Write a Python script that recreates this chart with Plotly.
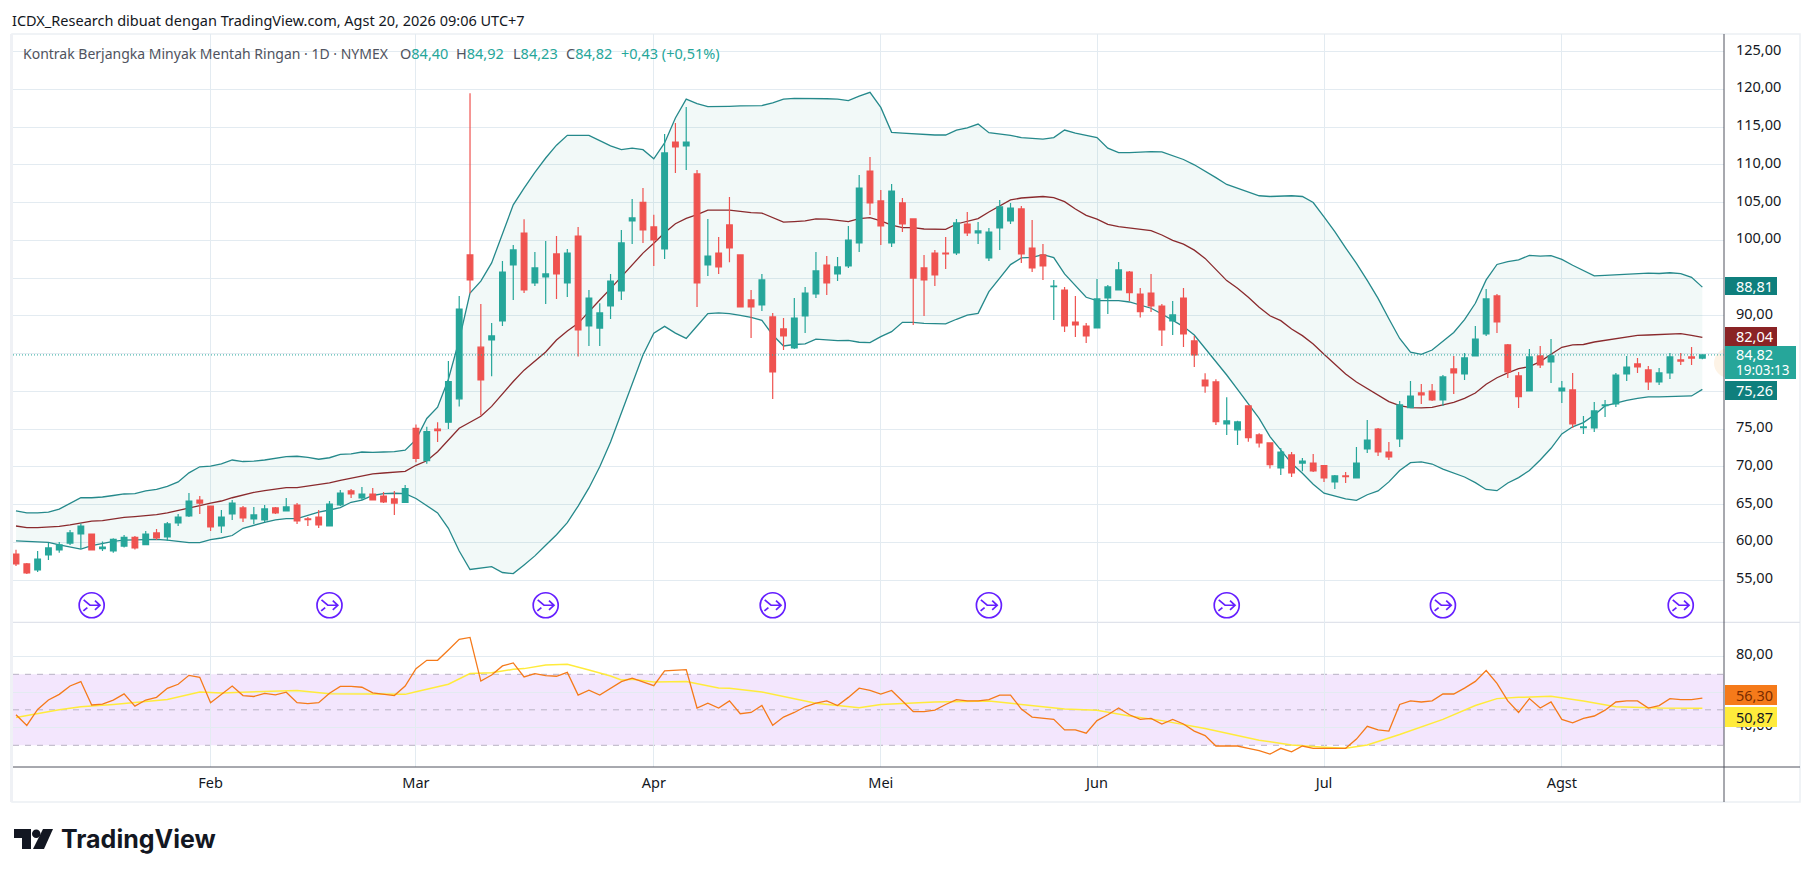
import plotly.graph_objects as go

W, H = 1814, 877

# ---------- DATA ----------
month_idx = [18, 37, 59, 80, 100, 121, 143]
month_lbl = ["Feb", "Mar", "Apr", "Mei", "Jun", "Jul", "Agst"]
price_ticks = [55, 60, 65, 70, 75, 80, 85, 90, 95, 100, 105, 110, 115, 120, 125]
price_tick_lbl = ["55,00", "60,00", "65,00", "70,00", "75,00", "", "", "90,00", "", "100,00", "105,00", "110,00", "115,00", "120,00", "125,00"]
rsi_ticks = [40, 60, 80]
rsi_tick_lbl = ["40,00", "", "80,00"]

open_ = [58.45,57.13,56.34,58.32,58.98,59.9,61.1,61.1,59.16,58.85,
 59.5,60.66,59.7,61.24,60.7,62.56,63.49,65.6,64.8,62.16,
 63.75,64.55,63.09,62.96,64.55,64.15,64.94,63.09,63.35,62.16,
 64.94,66.8,65.87,66.4,66.13,65.74,65.3,75.1,70.8,75.0,
 75.9,79.0,98.06,85.85,86.8,89.32,96.73,100.97,94.35,95.14,
 98.19,94.35,100.57,88.65,88.38,91.3,93.29,102.56,105.03,101.77,
 98.85,113.02,112.49,108.79,96.73,98.32,102.03,98.06,92.1,91.44,
 89.85,88.26,85.74,89.98,92.89,96.73,95.54,96.6,99.65,109.18,
 105.21,99.65,104.95,102.83,96.34,98.32,98.32,98.32,102.16,100.97,
 97.66,101.63,102.56,104.15,98.98,98.06,93.86,93.42,89.18,88.65,
 88.39,92.36,93.42,95.8,92.89,93.02,91.3,89.32,92.36,86.67,
 81.5,81.24,75.67,74.88,78.06,74.22,73.16,69.85,71.57,70.5,
 70.5,70.15,68.0,68.79,68.52,72.36,75.0,71.96,73.69,77.84,
 79.78,80.04,78.85,82.96,82.3,84.68,87.59,92.63,86.14,82.03,
 80.04,84.68,83.89,80.04,80.18,75.2,75.14,78.1,78.32,82.3,
 83.62,82.83,81.24,82.43,84.15,84.55,84.40]
high = [59.0,57.26,58.85,59.9,60.04,61.63,62.5,61.1,60.09,60.53,
 60.97,60.84,61.5,61.77,62.7,63.75,66.53,66.13,64.8,64.28,
 65.6,64.8,64.68,64.94,64.68,65.87,65.2,63.35,64.28,65.47,
 66.93,67.06,67.33,67.2,66.66,66.8,67.6,75.6,75.3,75.9,
 84.0,92.63,119.47,91.57,89.05,97.26,99.38,102.8,98.45,99.91,
 100.57,98.85,101.77,93.42,91.66,95.54,101.37,105.47,106.93,103.38,
 114.08,115.54,117.66,109.3,102.83,100.44,105.74,98.1,93.42,95.54,
 90.38,89.71,92.36,93.82,98.45,97.92,97.79,101.9,108.65,111.04,
 106.67,107.46,105.6,102.83,98.06,98.72,100.44,102.83,103.75,102.43,
 101.63,105.34,104.95,104.55,102.7,99.51,94.75,93.82,92.63,89.05,
 94.88,94.08,97.13,95.94,93.69,95.54,91.57,91.96,93.69,87.33,
 82.38,81.59,79.2,76.1,78.06,74.44,73.2,72.5,71.96,71.17,
 71.7,70.24,68.92,69.3,72.63,76.2,75.14,73.29,78.72,81.37,
 80.97,80.97,82.16,84.68,85.08,88.65,93.55,92.89,86.27,82.56,
 85.6,86.0,86.93,81.37,82.43,76.73,78.59,78.85,82.43,84.68,
 84.41,83.36,83.09,85.08,85.08,85.87,84.92]
low = [56.87,55.8,56.07,57.66,58.6,59.65,59.1,58.9,58.85,58.63,
 59.3,59.03,59.7,60.3,60.18,62.16,63.35,63.75,61.5,61.24,
 62.96,62.7,62.43,62.7,63.75,64.15,62.43,62.16,61.9,62.16,
 64.8,65.87,65.6,65.6,65.2,63.6,65.2,70.6,70.4,73.3,
 75.0,78.0,93.0,76.8,82.0,88.65,92.1,93.02,93.95,91.57,
 92.23,92.5,84.6,86.0,86.0,89.58,92.1,99.51,99.65,96.6,
 97.53,108.92,109.3,91.17,95.27,95.54,97.1,91.1,87.06,90.64,
 78.98,85.47,85.6,87.73,92.36,92.76,94.61,96.34,98.45,103.36,
 99.38,99.12,101.1,88.79,89.98,93.95,96.2,98.06,100.57,99.51,
 97.26,98.72,102.16,97.0,95.81,94.75,89.45,87.86,87.2,86.4,
 88.39,90.24,93.42,91.96,89.76,90.5,86.0,87.46,85.87,83.22,
 79.8,75.54,74.2,72.9,73.33,72.54,69.76,68.92,68.65,69.4,
 69.3,68.0,67.06,67.86,68.52,71.83,71.43,70.9,72.63,77.8,
 78.32,78.72,78.06,79.65,81.5,84.68,87.33,87.73,81.77,77.8,
 80.04,83.09,81.1,78.45,75.14,74.35,74.6,76.6,77.92,81.37,
 82.43,80.18,80.84,81.63,83.5,83.49,84.23]
close = [57.13,55.94,57.79,59.25,59.65,61.24,62.16,58.98,59.38,60.4,
 60.66,59.25,61.1,60.57,62.43,63.35,65.47,65.2,62.03,63.35,
 65.2,63.22,63.62,64.42,63.89,64.68,62.83,63.0,62.3,65.07,
 66.53,66.4,66.4,65.6,65.34,65.2,67.1,71.1,74.65,74.8,
 81.3,90.9,94.75,81.5,87.33,95.8,98.72,93.42,96.34,95.54,
 95.54,98.32,88.12,92.36,90.38,94.61,99.65,102.96,101.37,100.04,
 111.57,112.36,113.02,94.35,97.92,96.47,98.98,91.17,91.17,94.75,
 82.56,87.33,89.71,93.02,95.94,94.35,96.47,100.04,106.93,104.95,
 101.9,106.53,102.16,95.0,94.75,95.41,98.19,102.3,100.97,101.24,
 101.1,104.42,104.28,98.19,96.34,96.6,93.95,88.65,88.79,87.33,
 92.23,93.82,96.07,93.07,90.55,91.3,88.12,90.11,87.59,84.81,
 80.72,75.98,76.07,75.94,73.86,73.16,70.29,71.96,69.18,70.77,
 69.45,68.52,68.79,68.7,70.5,73.55,71.96,71.3,78.19,79.38,
 79.51,78.85,81.9,82.43,84.42,86.93,92.23,89.18,82.56,79.3,
 84.55,83.49,84.68,80.44,75.67,75.28,77.4,78.19,82.16,83.22,
 83.22,81.24,82.43,84.55,84.0,84.4,84.82]

bb_upper = [64.15,63.9,63.9,64.0,64.4,65.1,65.9,65.9,66.0,66.2,
 66.4,66.45,66.8,67.0,67.4,68.0,69.2,70.0,70.1,70.4,
 70.9,70.7,70.75,70.9,71.1,71.35,71.4,71.25,71.0,71.2,
 71.65,71.7,71.96,71.9,71.96,72.0,72.2,73.6,76.4,77.9,
 81.6,86.8,93.0,94.6,97.0,100.9,104.7,106.9,109.0,110.9,
 112.6,113.9,113.9,113.9,113.2,112.5,112.0,112.2,112.0,110.8,
 112.9,116.2,118.7,118.1,117.7,117.7,117.75,117.8,117.8,117.85,
 118.2,118.7,118.8,118.8,118.8,118.75,118.7,118.5,119.1,119.6,
 117.6,114.3,114.2,114.1,114.0,113.95,113.95,114.6,114.9,115.4,
 114.26,114.1,113.9,113.6,113.55,113.4,113.6,114.6,114.2,113.95,
 113.6,112.2,111.6,111.6,111.7,111.75,111.7,111.2,110.7,110.0,
 109.2,108.3,107.4,106.9,106.3,105.9,105.8,105.85,105.9,105.8,
 105.0,103.1,101.15,99.0,96.95,94.7,92.3,89.6,87.0,85.2,
 84.9,85.47,86.6,87.8,89.5,91.66,94.75,96.8,97.17,97.4,
 98.0,97.9,97.97,97.48,96.7,96.0,95.3,95.35,95.4,95.55,
 95.6,95.65,95.6,95.7,95.6,95.1,93.8]
bb_mid = [62.16,61.94,61.95,62.0,62.1,62.3,62.56,62.8,62.87,63.1,
 63.3,63.4,63.53,63.66,63.9,64.2,64.5,64.86,65.2,65.47,
 65.9,66.3,66.6,66.84,67.06,67.24,67.24,67.46,67.6,67.86,
 68.2,68.5,68.83,69.05,69.18,69.3,69.4,70.2,70.8,72.0,
 73.6,75.1,75.9,76.7,78.0,79.7,81.3,82.8,84.0,85.2,
 86.8,88.0,89.0,90.6,92.1,93.6,95.2,96.7,98.3,99.6,
 101.0,102.2,102.9,103.4,104.0,104.0,104.0,103.84,103.66,103.6,
 103.0,102.4,102.47,102.56,102.83,102.8,102.65,102.47,102.87,103.0,
 102.56,102.0,101.68,101.68,101.5,101.46,101.46,102.16,102.5,102.87,
 103.75,104.55,105.34,105.6,105.65,105.8,105.65,105.12,104.15,103.3,
 102.8,102.1,101.8,101.63,101.5,101.28,100.7,100.0,99.5,98.7,
 97.6,96.07,94.66,93.64,92.45,91.13,90.0,89.36,88.26,87.37,
 86.27,84.9,83.58,82.3,81.24,80.4,79.47,78.63,78.1,77.84,
 77.8,77.88,78.2,78.54,79.07,79.78,80.93,81.8,82.45,83.0,
 83.27,83.93,84.9,85.83,86.14,86.2,86.53,86.75,86.98,87.24,
 87.42,87.46,87.55,87.64,87.64,87.42,87.15]
bb_lower = [60.18,60.1,60.05,60.0,59.65,59.38,59.1,59.56,59.87,60.13,
 60.3,60.35,60.4,60.4,60.3,60.09,59.96,59.96,60.35,60.57,
 60.9,61.85,62.3,62.65,62.96,63.13,63.13,63.6,64.0,64.28,
 64.6,65.3,65.6,66.2,66.45,66.5,66.45,65.8,64.9,63.9,
 61.85,58.85,56.4,56.6,56.78,56.0,55.85,57.0,58.2,59.6,
 61.0,62.6,64.8,67.2,70.0,73.3,77.1,80.9,84.8,87.7,
 88.6,87.7,87.0,88.65,90.3,90.4,90.3,90.07,89.8,89.4,
 87.46,86.0,86.2,86.27,86.9,86.8,86.7,86.75,86.5,86.45,
 87.24,87.9,89.14,89.14,89.0,88.96,88.92,89.54,90.1,90.33,
 93.2,95.0,96.78,97.66,97.75,98.1,97.7,95.54,93.95,92.45,
 92.0,92.0,92.0,91.83,91.43,91.0,90.24,89.45,88.57,87.46,
 85.7,83.8,82.16,80.26,78.4,76.4,74.0,72.2,70.46,69.14,
 67.7,66.5,66.14,65.74,65.56,66.3,66.8,68.0,69.5,70.55,
 70.64,70.37,69.7,69.18,68.65,67.9,67.0,66.84,67.86,68.57,
 69.5,70.9,72.45,74.35,75.3,75.85,76.87,78.06,78.45,78.8,
 79.07,79.25,79.25,79.3,79.34,79.38,80.26]

rsi = [47.2,41.2,50.2,55.5,58.7,63.4,65.9,52.7,53.2,55.5,
 59.0,52.1,55.5,57.0,62.1,64.4,69.4,68.3,54.0,58.7,
 63.4,58.0,57.5,59.3,58.4,59.9,54.0,53.5,54.0,59.3,
 63.2,63.2,62.7,59.5,58.8,58.0,63.4,73.2,77.9,77.9,
 83.7,89.7,90.8,66.2,69.6,74.7,76.4,68.5,70.4,69.3,
 68.9,71.1,58.3,61.0,58.3,62.0,65.9,67.8,65.5,63.6,
 71.9,72.1,72.6,51.0,53.7,51.0,55.0,47.8,48.5,52.4,
 41.3,45.9,48.5,51.7,53.7,55.0,52.4,57.0,62.2,60.9,
 58.9,60.9,55.0,49.0,49.0,49.8,53.0,55.7,55.0,55.0,
 55.7,58.3,58.3,50.4,45.9,45.2,44.6,38.7,38.7,36.8,
 43.9,47.2,51.0,47.2,44.6,45.2,42.0,44.6,42.0,38.0,
 35.5,29.6,29.6,29.6,28.3,27.0,25.0,28.3,26.3,29.6,
 28.3,28.3,28.0,28.3,33.5,40.7,38.7,38.0,53.0,55.0,
 54.4,55.0,58.9,58.9,62.2,66.0,72.1,64.9,55.0,48.5,
 56.3,51.0,54.4,44.6,42.6,45.2,46.5,49.8,54.4,55.0,
 55.0,51.0,52.4,56.3,55.7,55.7,56.6]
rsi_ma_idx = [0,2,4,6,9,14,16,17,19,23,26,29,32,36,37,40,42,44,46,47,49,51,53,55,56,57,59,62,65,66,69,70,72,74,78,80,85,90,93,97,100,103,106,110,115,118,121,123,125,128,132,135,137,139,142,145,148,152,156]
rsi_ma = [45.7,48,50,51.7,53,55.8,58.7,60,59.5,60.1,60.9,59.1,58.8,58.7,60.2,64.4,70.4,70.9,72.8,73.2,75.3,75.6,72.4,69,66.8,67.2,65.7,65.9,62.3,62.1,60,58.8,56.3,53.7,51.1,53,54.4,55,53,50.4,49.8,46.5,43.9,39.4,32.9,30.2,28.9,28.3,30.2,36.1,44.6,52.4,56.3,57,57.6,55,51.7,51,50.87]

marker_idx = [7, 29, 49, 70, 90, 112, 132, 154]
marker_level = [51.66] * len(marker_idx)
last_close = 84.82

assert all(len(s) == 157 for s in (open_, high, low, close, bb_upper, bb_mid, bb_lower, rsi))
assert len(rsi_ma_idx) == len(rsi_ma)
idx = list(range(157))

# ---------- STYLE ----------
GREEN, RED = "#26a69a", "#ef5350"
BAND, MID = "#25898b", "#8a2a2d"
GRID = "#e3ebf1"
FONT = "Noto Sans"
TEXT = "#131722"

def fx(p): return p / W
def fy(p): return 1 - p / H

PX_PER_BAR = 10.81
x_range = [(13 - 16) / PX_PER_BAR, (1724 - 16) / PX_PER_BAR]
PX_PER_USD = 7.55
y_range = [80 - (622 - 391.3) / PX_PER_USD, 80 + (391.3 - 34) / PX_PER_USD]
r_range = [30 - (767 - 745.3) / 1.775, 70 + (674.3 - 622) / 1.775]

fig = go.Figure()
fig.add_trace(go.Scatter(x=idx, y=bb_upper, mode="lines", line=dict(color=BAND, width=1.3), hoverinfo="skip"))
fig.add_trace(go.Scatter(x=idx, y=bb_lower, mode="lines", line=dict(color=BAND, width=1.3),
                         fill="tonexty", fillcolor="rgba(0,137,123,0.05)", hoverinfo="skip"))
fig.add_trace(go.Scatter(x=idx, y=bb_mid, mode="lines", line=dict(color=MID, width=1.3), hoverinfo="skip"))
fig.add_trace(go.Scatter(x=marker_idx, y=marker_level, mode="markers", hoverinfo="skip",
                         marker=dict(symbol="circle-open", size=25, color="#651fff", line=dict(color="#651fff", width=1.7))))
fig.add_trace(go.Candlestick(x=idx, open=open_, high=high, low=low, close=close, yaxis="y3",
                             whiskerwidth=0, hoverinfo="skip",
                             increasing=dict(line=dict(color=GREEN, width=1.2), fillcolor=GREEN),
                             decreasing=dict(line=dict(color=RED, width=1.2), fillcolor=RED)))
fig.add_trace(go.Scatter(x=rsi_ma_idx, y=rsi_ma, mode="lines", yaxis="y2", line=dict(color="#ffeb3b", width=1.5), hoverinfo="skip"))
fig.add_trace(go.Scatter(x=idx, y=rsi, mode="lines", yaxis="y2", line=dict(color="#f57a1a", width=1.3), hoverinfo="skip"))

shapes = [
    dict(type="rect", xref="paper", x0=fx(13), x1=fx(1724), yref="y2", y0=30, y1=70, fillcolor="#f3e6fd", line_width=0, layer="below"),
    dict(type="rect", xref="paper", yref="paper", x0=fx(12), x1=fx(1800), y0=fy(802), y1=fy(34), line=dict(color="#eceff3", width=1.5), layer="below"),
    dict(type="line", xref="paper", yref="paper", x0=fx(11.5), x1=fx(11.5), y0=fy(802), y1=fy(34), line=dict(color="#eff1f5", width=3), layer="below"),
    dict(type="line", xref="paper", yref="paper", x0=fx(13), x1=fx(1800), y0=fy(622.3), y1=fy(622.3), line=dict(color="#e0e3eb", width=1.2), layer="between"),
    dict(type="line", xref="paper", yref="paper", x0=fx(13), x1=fx(1800), y0=fy(767), y1=fy(767), line=dict(color="#50535e", width=1)),
    dict(type="line", xref="paper", yref="paper", x0=fx(1724), x1=fx(1724), y0=fy(802), y1=fy(34), line=dict(color="#50535e", width=1)),
    *[dict(type="line", xref="paper", x0=fx(13), x1=fx(1724), yref="y2", y0=v, y1=v,
           line=dict(color="#b8b2c4", width=1, dash="6px,6px"), layer="between") for v in (30, 50, 70)],
    dict(type="line", xref="paper", x0=fx(13), x1=fx(1724), yref="y", y0=last_close, y1=last_close,
         line=dict(color=GREEN, width=1, dash="1px,2px")),
    dict(type="circle", xref="paper", yref="paper", x0=fx(1714), x1=fx(1744), y0=fy(378), y1=fy(348), fillcolor="#fdf3e6", line_width=0, layer="below"),
]
for i, lv in zip(marker_idx, marker_level):
    shapes.append(dict(type="path", xref="x", yref="y", xsizemode="pixel", ysizemode="pixel", xanchor=i, yanchor=lv,
                       path="M -8 5.3 L -1.7 0 L 8.3 0 M 3.3 4.7 L 8.3 0 L 3.3 -4.7 M -8.3 -5.7 L -4.3 -2.3",
                       line=dict(color="#651fff", width=1.7)))

shapes += [
    dict(type="path", xref="paper", yref="paper",
         path=f"M {fx(14)} {fy(829)} L {fx(31)} {fy(829)} L {fx(31)} {fy(849)} L {fx(22)} {fy(849)} L {fx(22)} {fy(838)} L {fx(14)} {fy(838)} Z",
         fillcolor=TEXT, line_width=0),
    dict(type="circle", xref="paper", yref="paper", x0=fx(32), x1=fx(40.5), y0=fy(838), y1=fy(829.5), fillcolor=TEXT, line_width=0),
    dict(type="path", xref="paper", yref="paper",
         path=f"M {fx(43)} {fy(829)} L {fx(53)} {fy(829)} L {fx(44)} {fy(849)} L {fx(33)} {fy(849)} Z",
         fillcolor=TEXT, line_width=0),
]

def label_box(y0, y1, x1, color):
    shapes.append(dict(type="rect", xref="paper", yref="paper", x0=fx(1725), x1=fx(x1), y0=fy(y1), y1=fy(y0), fillcolor=color, line_width=0))

label_box(277, 295, 1777, "#0f7f7d")
label_box(327, 346, 1777, "#8a2325")
label_box(346, 379, 1796, GREEN)
label_box(381, 400, 1777, "#0f7f7d")
label_box(685, 705, 1777, "#f57a1a")
label_box(707, 727, 1777, "#ffeb3b")

def txt(x, y, s, size=14.5, color=TEXT, anchor="left", **kw):
    return dict(xref="paper", yref="paper", x=fx(x), y=fy(y), text=s, showarrow=False, xanchor=anchor, yanchor="middle",
                font=dict(family=kw.pop("family", FONT), size=size, color=color), align="left", borderpad=0, **kw)

GRAY = "#50535e"
VAL = GREEN
def ohlc(letter, value):
    return f'{letter}<span style="color:{VAL}">{value}</span>'

annotations = [
    txt(11, 20, "ICDX_Research dibuat dengan TradingView.com, Agst 20, 2026 09:06 UTC+7"),
    txt(22, 53, "Kontrak Berjangka Minyak Mentah Ringan · 1D · NYMEX", size=14, color=GRAY),
    txt(399, 53, ohlc("O", "84,40"), color=GRAY),
    txt(455, 53, ohlc("H", "84,92"), color=GRAY),
    txt(512, 53, ohlc("L", "84,23"), color=GRAY),
    txt(565, 53, ohlc("C", "84,82"), color=GRAY),
    txt(620, 53, "+0,43 (+0,51%)", color=VAL),
    txt(1735, 286, "88,81", color="white"),
    txt(1735, 336.5, "82,04", color="white"),
    txt(1735, 354, "84,82", color="white"),
    txt(1735, 370, "19:03:13", size=13.5, color="white"),
    txt(1735, 390.5, "75,26", color="white"),
    txt(1735, 695, "56,30", color="#7a2c00"),
    txt(1735, 717, "50,87", color=TEXT),
    txt(60, 839, "<b>TradingView</b>", size=25, family="Inter"),
]

axis_common = dict(showline=False, zeroline=False, tickfont=dict(family=FONT, size=14.5, color=TEXT))
fig.update_layout(
    width=W, height=H, margin=dict(l=0, r=0, t=0, b=0), autosize=False,
    paper_bgcolor="white", plot_bgcolor="white", showlegend=False, hovermode=False, dragmode=False,
    boxgap=0.25, shapes=shapes, annotations=annotations,
    xaxis=dict(domain=[fx(13), fx(1724)], range=x_range, anchor="y2", tickmode="array", tickvals=month_idx, ticktext=month_lbl,
               showgrid=True, gridcolor=GRID, gridwidth=1, ticks="outside", ticklen=3, tickcolor="rgba(0,0,0,0)",
               rangeslider=dict(visible=False), **axis_common),
    yaxis=dict(domain=[fy(622), fy(34)], range=y_range, side="right", tickmode="array", tickvals=price_ticks, ticktext=price_tick_lbl,
               showgrid=True, gridcolor=GRID, gridwidth=1, ticks="outside", ticklen=8, tickcolor="rgba(0,0,0,0)", anchor="x",
               ticklabelshift=-2, **axis_common),
    yaxis3=dict(overlaying="y", range=y_range, side="right", showticklabels=False, showgrid=False, zeroline=False, anchor="x"),
    yaxis2=dict(domain=[fy(767), fy(622)], range=r_range, side="right", tickmode="array", tickvals=rsi_ticks, ticktext=rsi_tick_lbl,
                showgrid=True, gridcolor=GRID, gridwidth=1, ticks="outside", ticklen=8, tickcolor="rgba(0,0,0,0)", anchor="x",
                ticklabelshift=-3, **axis_common),
)

fig.write_html("out.html", config=dict(displayModeBar=False, responsive=False),
               post_script="document.body.style.margin='0';document.body.style.overflow='hidden';")
